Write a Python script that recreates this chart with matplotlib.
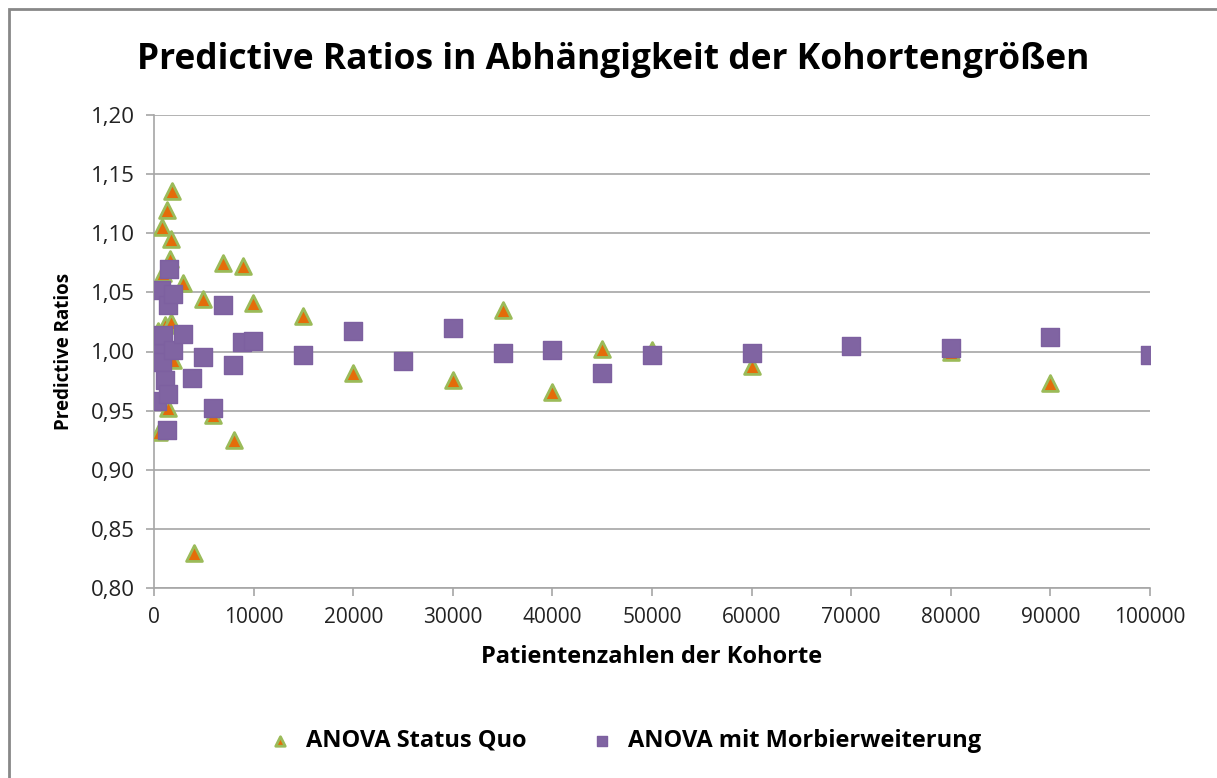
import matplotlib
matplotlib.use("Agg")
import matplotlib.pyplot as plt
from matplotlib.patches import Rectangle
from matplotlib.ticker import FuncFormatter, MultipleLocator

plt.rcParams['font.family'] = ['Open Sans', 'DejaVu Sans']

# ANOVA Status Quo
sq_x = [430, 530, 770, 940, 1100, 1340, 1440, 1600, 1700, 1700, 1780, 1940,
        2940, 4000, 4950, 5950, 6960, 8030, 8900, 9970,
        15000, 20000, 30000, 35000, 40000, 45000, 50000, 60000, 80000, 90000]
sq_y = [1.017, 0.932, 1.105, 1.066, 1.022, 1.120, 0.952, 1.078, 1.095, 1.025, 1.136, 0.993,
        1.058, 0.830, 1.044, 0.946, 1.0745, 0.925, 1.072, 1.041,
        1.030, 0.982, 0.976, 1.035, 0.966, 1.002, 1.001, 0.988, 1.000, 0.973]

# ANOVA mit Morbierweiterung
mo_x = [330, 430, 670, 770, 940, 1100, 1270, 1440, 1540, 1400, 1940, 1940,
        2940, 3850, 4880, 5950, 6960, 7960, 8800, 9900,
        15000, 20000, 25000, 30000, 35000, 40000, 45000, 50000, 60000, 70000, 80000, 90000, 100000]
mo_y = [0.958, 0.9985, 1.052, 0.991, 1.014, 0.976, 0.934, 0.964, 1.070, 1.039, 1.049, 1.001,
        1.0145, 0.9775, 0.995, 0.952, 1.039, 0.989, 1.008, 1.009,
        0.997, 1.017, 0.992, 1.020, 0.999, 1.001, 0.982, 0.997, 0.999, 1.005, 1.003, 1.012, 0.997]

x_ticks = list(range(0, 100001, 10000))
title = "Predictive Ratios in Abhängigkeit der Kohortengrößen"
xlabel = "Patientenzahlen der Kohorte"
ylabel = "Predictive Ratios"
labels = ["ANOVA Status Quo", "ANOVA mit Morbierweiterung"]

fig = plt.figure(figsize=(12.17, 7.78), dpi=100)
W, H = 1217, 778
ax = fig.add_axes([154 / W, 1 - 588 / H, (1150 - 154) / W, (588 - 115) / H])

# outer chart border
fig.patches.append(Rectangle((8.5 / W, -0.1), 1.2, 1 - 9 / H + 0.1, transform=fig.transFigure,
                             fill=False, edgecolor='#888888', linewidth=2))

ax.scatter(sq_x, sq_y, marker='^', s=130, facecolor='#E46C0A', edgecolor='#9BBB59',
           linewidths=2, label=labels[0], zorder=3)
ax.scatter(mo_x, mo_y, marker='s', s=160, facecolor='#8064A2', edgecolor='#7D60A0',
           linewidths=1, label=labels[1], zorder=4)

ax.set_xlim(0, 100000)
ax.set_ylim(0.80, 1.20)
ax.set_xticks(x_ticks)
ax.yaxis.set_major_locator(MultipleLocator(0.05))
ax.yaxis.set_major_formatter(FuncFormatter(lambda v, p: f"{v:.2f}".replace('.', ',')))
ax.grid(axis='y', color='#A6A6A6', linewidth=1.2)
ax.set_axisbelow(True)
for s in ['top', 'right']:
    ax.spines[s].set_visible(False)
for s in ['left', 'bottom']:
    ax.spines[s].set_color('#A6A6A6')
    ax.spines[s].set_linewidth(1.2)
ax.tick_params(axis='both', colors='#A6A6A6', labelcolor='#222222', length=6, width=1.2)
ax.tick_params(axis='x', labelsize=15, pad=8)
ax.tick_params(axis='y', labelsize=16, pad=8)

ax.set_xlabel(xlabel, fontsize=17, fontweight='bold', labelpad=12)
ax.set_ylabel(ylabel, fontsize=13.5, fontweight='bold', labelpad=12)

fig.text(613 / W, 1 - 60 / H, title, fontsize=25.5, fontweight='bold', ha='center', va='center')

leg = fig.legend(loc='center', bbox_to_anchor=(619 / W, 1 - 741 / H), ncol=2, frameon=False,
                 prop={'weight': 'bold', 'size': 17}, handletextpad=0.1,
                 columnspacing=2.2, markerscale=0.6)

fig.savefig("out.png", dpi=100)
